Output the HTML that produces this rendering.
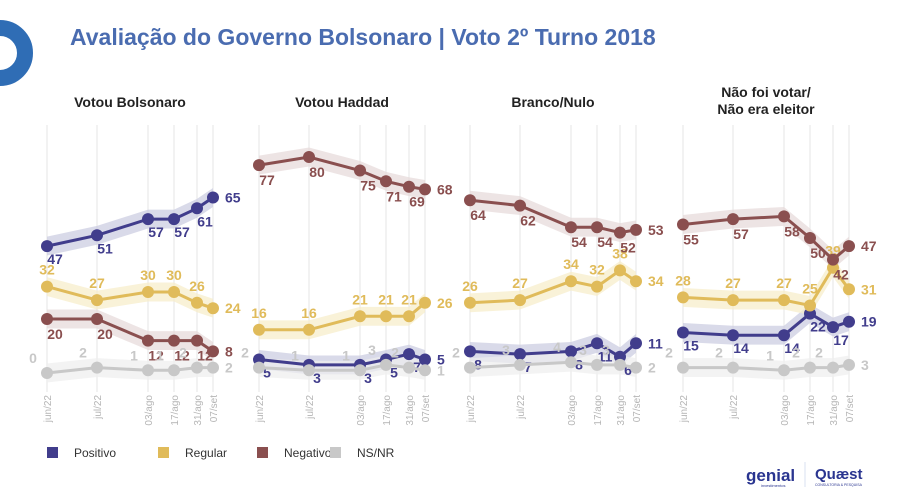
<!DOCTYPE html>
<html><head><meta charset="utf-8">
<style>
body{margin:0;background:#fff;font-family:"Liberation Sans",sans-serif;}
#wrap{position:relative;width:900px;height:501px;overflow:hidden;background:#fff;}
svg text{font-family:"Liberation Sans",sans-serif;}
</style></head>
<body>
<div id="wrap">
<svg id="svg" width="900" height="501" viewBox="0 0 900 501">
  <circle cx="0" cy="53" r="25" fill="none" stroke="#2f6db5" stroke-width="16"/>
  <text x="70" y="45" font-size="23" font-weight="bold" fill="#4a6cb0">Avaliação do Governo Bolsonaro | Voto 2º Turno 2018</text>
  <g id="panels"></g>
  <g>
    <rect x="47" y="447" width="11" height="11" fill="#413d8c"/>
    <text x="74" y="457" font-size="12" fill="#333">Positivo</text>
    <rect x="158" y="447" width="11" height="11" fill="#e0bb5a"/>
    <text x="185" y="457" font-size="12" fill="#333">Regular</text>
    <rect x="257" y="447" width="11" height="11" fill="#8a4f4f"/>
    <text x="284" y="457" font-size="12" fill="#333">Negativo</text>
    <rect x="330" y="447" width="11" height="11" fill="#c8c8c8"/>
    <text x="357" y="457" font-size="12" fill="#333">NS/NR</text>
  </g>
  <text x="746" y="481" font-size="17" font-weight="bold" fill="#2a3590">genial</text>
  <text x="761" y="487" font-size="4" fill="#2a3590">investimentos</text>
  <line x1="805" y1="462" x2="805" y2="487" stroke="#d8e2f0" stroke-width="1"/>
  <text x="815" y="479" font-size="15" font-weight="bold" fill="#2a3590">Quæst</text>
  <text x="815" y="486" font-size="3.5" fill="#2a3590">CONSULTORIA &amp; PESQUISA</text>
</svg>
</div>
<script>
const dates = ["jun/22","jul/22","03/ago","17/ago","31/ago","07/set"];
const panelTitles = [["Votou Bolsonaro"],["Votou Haddad"],["Branco/Nulo"],["Não foi votar/","Não era eleitor"]];
const positivo = [[47,51,57,57,61,65],[5,3,3,5,7,5],[8,7,8,11,6,11],[15,14,14,22,17,19]];
const regular  = [[32,27,30,30,26,24],[16,16,21,21,21,26],[26,27,34,32,38,34],[28,27,27,25,39,31]];
const negativo = [[20,20,12,12,12,8],[77,80,75,71,69,68],[64,62,54,54,52,53],[55,57,58,50,42,47]];
const nsnr     = [[0,2,1,1,2,2],[2,1,1,3,2,1],[2,3,4,3,3,2],[2,2,1,2,2,3]];

const NS="http://www.w3.org/2000/svg";
const g=document.getElementById('panels');
const xFrac=[0,50,101,127,150,166];
const panelX0=[47,259,470,683];
function xPos(p,i){return panelX0[p]+xFrac[i];}
function yPos(v){return 373-v*2.7;}
function el(tag,attrs,parent){const e=document.createElementNS(NS,tag);for(const k in attrs)e.setAttribute(k,attrs[k]);(parent||g).appendChild(e);return e;}
const series=[
 {key:'positivo',data:positivo,color:'#413d8c',band:'#c9cbe0',dy:18,dx:8},
 {key:'regular',data:regular,color:'#e0bb5a',band:'#f6ecc8',dy:-12,dx:0},
 {key:'negativo',data:negativo,color:'#8a4f4f',band:'#e6d8d8',dy:20,dx:8},
 {key:'nsnr',data:nsnr,color:'#c8c8c8',band:'#eeeeee',dy:-10,dx:-14}
];
for(let p=0;p<4;p++){
  const pg=el('g',{});
  
  
  const cx=panelX0[p]+83;
  const tl=panelTitles[p];
  tl.forEach((t,j)=>{
    const tx=el('text',{x:cx,y:(tl.length>1?97+j*17:107),'text-anchor':'middle','font-size':'14','font-weight':'bold',fill:'#222'},pg);
    
    
    tx.textContent=t;
  });
  dates.forEach((d,i)=>{
    const x=xPos(p,i);
    const ln=el('line',{x1:x,y1:125,x2:x,y2:392,stroke:'#e6e6e6','stroke-width':1},pg);
    
    
    const t=el('text',{x:0,y:0,'font-size':'10',fill:'#b5b5b5','text-anchor':'end',transform:`translate(${x+4},395) rotate(-90)`},pg);
    
    
    t.textContent=d;
  });
  series.forEach(s=>{
    const vals=s.data[p];
    let up='',dn='';
    vals.forEach((v,i)=>{up+=(i?'L':'M')+xPos(p,i)+','+yPos(v+3.5);});
    for(let i=vals.length-1;i>=0;i--){dn+='L'+xPos(p,i)+','+yPos(vals[i]-3.5);}
    const band=el('path',{d:up+dn+'Z',fill:s.band,opacity:0.7},pg);
    
    
  });
  series.forEach(s=>{
    const vals=s.data[p];
    const pts=vals.map((v,i)=>xPos(p,i)+','+yPos(v)).join(' ');
    const pl=el('polyline',{points:pts,fill:'none',stroke:s.color,'stroke-width':3},pg);
    
    
    vals.forEach((v,i)=>{
      const c=el('circle',{cx:xPos(p,i),cy:yPos(v),r:6,fill:s.color},pg);
      
      
      const t=el('text',{x:xPos(p,i)+(i===5?12:s.dx),y:yPos(v)+(i===5?5:s.dy),'text-anchor':(i===5?'start':'middle'),'font-size':'14','font-weight':'bold',fill:s.color},pg);
      
      
      t.textContent=v;
    });
  });
}
</script>
</body></html>
